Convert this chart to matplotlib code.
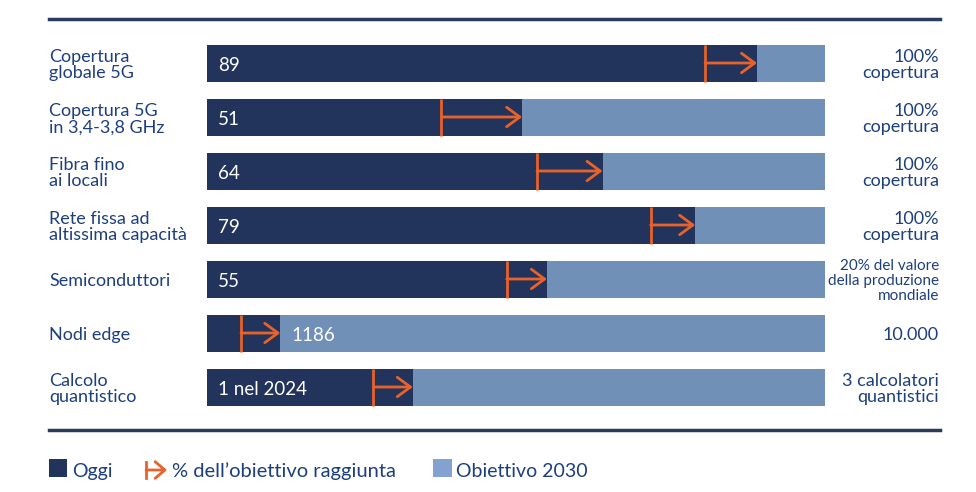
import matplotlib
matplotlib.use('Agg')
import matplotlib.pyplot as plt
from matplotlib.lines import Line2D
from matplotlib.patches import Rectangle, FancyArrowPatch

categories = ['Copertura\nglobale 5G', 'Copertura 5G\nin 3,4-3,8 GHz', 'Fibra fino\nai locali',
              'Rete fissa ad\naltissima capacità', 'Semiconduttori', 'Nodi edge',
              'Calcolo\nquantistico']
today_pct = [89, 51, 64, 79, 55, 11.86, 33.3]          # % of 2030 target reached
arrow_start = [80.6, 37.9, 53.4, 71.8, 48.5, 5.5, 26.9]  # where the orange arrow begins
today_labels = ['89', '51', '64', '79', '55', '1186', '1 nel 2024']
target_labels = ['100%\ncopertura', '100%\ncopertura', '100%\ncopertura', '100%\ncopertura',
                 '20% del valore\ndella produzione\nmondiale', '10.000',
                 '3 calcolatori\nquantistici']
target_small = [False, False, False, False, True, False, False]

DARK = '#22345b'
LIGHT = '#7190b7'
LIGHT_LEG = '#82a3cf'
ORANGE = '#e8622a'
TEXT = '#1d3f7e'
LINE = '#2b3b5e'

plt.rcParams['font.family'] = ['Lato', 'DejaVu Sans']

W, H = 976, 492
fig = plt.figure(figsize=(W / 100, H / 100), dpi=100)


def fx(px):
    return px / W


def fy(py):
    return 1 - py / H


# axes spans the bar area between the two rules
ax = fig.add_axes([fx(207), fy(430), fx(825) - fx(207), fy(19) - fy(430)])
n = len(categories)
ax.set_xlim(0, 100)
ax.set_ylim(n - 1 + 43 / 54, -44 / 54)
ax.axis('off')

bar_h = 37 / 54
y = list(range(n))
ax.barh(y, [100] * n, height=bar_h, color=LIGHT, linewidth=0)
ax.barh(y, today_pct, height=bar_h, color=DARK, linewidth=0)

for i in range(n):
    # orange progress arrow
    ax.plot([arrow_start[i], arrow_start[i]], [i - bar_h / 2, i + bar_h / 2],
            color=ORANGE, lw=2, solid_capstyle='butt')
    ax.annotate('', xy=(today_pct[i], i), xytext=(arrow_start[i], i),
                arrowprops=dict(arrowstyle='->,head_length=9.5,head_width=7',
                                color=ORANGE, lw=2, shrinkA=0, shrinkB=0,
                                mutation_scale=1))
    # today value
    x0 = today_pct[i] if today_pct[i] < 20 else 0
    ax.annotate(today_labels[i], xy=(x0, i), xytext=(8, -1.5),
                textcoords='offset points', color='white', fontsize=13.5,
                va='center', ha='left')

    # left category label
    fig.text(fx(49), fy(65 + 54 * i), categories[i], color=TEXT, fontsize=13,
             ha='left', va='center', linespacing=1.03)
    # right target label
    fig.text(fx(939), fy(65 + 54 * i), target_labels[i], color=TEXT,
             fontsize=11 if target_small[i] else 13,
             ha='right', va='center', linespacing=1.12 if target_small[i] else 1.05)

# horizontal rules
for ry in (19, 430):
    fig.add_artist(Line2D([fx(49), fx(940)], [fy(ry), fy(ry)], color=LINE, lw=2.5,
                          transform=fig.transFigure))

# legend
fig.add_artist(Rectangle((fx(49), fy(477)), fx(18), fy(459) - fy(477), color=DARK,
                         transform=fig.transFigure, linewidth=0))
fig.text(fx(72), fy(477), 'Oggi', color=TEXT, fontsize=14, ha='left', va='baseline')
fig.add_artist(Line2D([fx(146), fx(146)], [fy(462), fy(478)], color=ORANGE, lw=2,
                      transform=fig.transFigure))
fig.add_artist(FancyArrowPatch(
    (fx(146), fy(470)), (fx(167), fy(470)), transform=fig.transFigure,
    arrowstyle='->,head_length=7,head_width=6', mutation_scale=1,
    color=ORANGE, lw=2, shrinkA=0, shrinkB=0))
fig.text(fx(172), fy(477), '% dell\u2019obiettivo raggiunta', color=TEXT, fontsize=14.5,
         ha='left', va='baseline')
fig.add_artist(Rectangle((fx(433), fy(477)), fx(19), fy(459) - fy(477), color=LIGHT_LEG,
                         transform=fig.transFigure, linewidth=0))
fig.text(fx(456), fy(477), 'Obiettivo 2030', color=TEXT, fontsize=14, ha='left',
         va='baseline')

fig.savefig('out.png', dpi=100)
